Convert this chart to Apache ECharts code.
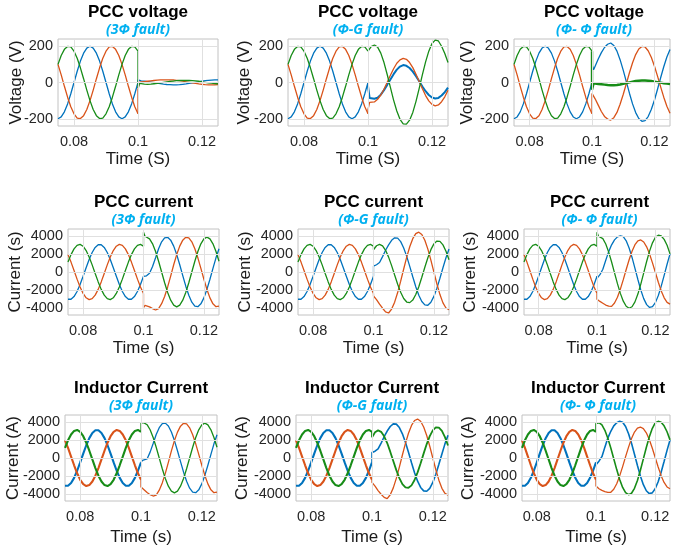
<!DOCTYPE html>
<html>
<head>
<meta charset="UTF-8">
<title>PCC voltage / PCC current / Inductor current under faults</title>
<script src="https://cdn.jsdelivr.net/npm/echarts/dist/echarts.min.js"></script>
<style>
  html, body { margin: 0; padding: 0; background: #fff; }
  #chart { width: 673px; height: 550px; }
</style>
</head>
<body>
<div id="chart"></div>
<script>
// ---- time base (s): before the fault, and from the fault instant on ----
var tPre = [0.075, 0.076, 0.077, 0.078, 0.079, 0.080, 0.081, 0.082, 0.083, 0.084, 0.085, 0.086, 0.087,
            0.088, 0.089, 0.090, 0.091, 0.092, 0.093, 0.094, 0.095, 0.096, 0.097, 0.098, 0.099, 0.100];
var tPost = [0.100, 0.1005, 0.101, 0.102, 0.103, 0.104, 0.105, 0.106, 0.107, 0.108, 0.109, 0.110, 0.111,
             0.112, 0.113, 0.114, 0.115, 0.116, 0.117, 0.118, 0.119, 0.120, 0.121, 0.122, 0.123, 0.124, 0.125];

// ---- tick labels ----
var xTicks = [0.08, 0.1, 0.12];
var vTicks = [-200, 0, 200];
var iTicks = [-4000, -2000, 0, 2000, 4000];

// ---- pre-fault (same in all three fault cases), phases A blue, B orange, C green ----
var vPreA = [-200, -190, -162, -118, -62, 0, 62, 118, 162, 190, 200, 190, 162, 118, 62, 0, -62, -118, -162, -190, -200, -190, -162, -118, -62, 0];
var vPreB = [100, 42, -21, -81, -134, -173, -196, -199, -183, -149, -100, -42, 21, 81, 134, 173, 196, 199, 183, 149, 100, 42, -21, -81, -134, -173];
var vPreC = [100, 149, 183, 199, 196, 173, 134, 81, 21, -42, -100, -149, -183, -199, -196, -173, -134, -81, -21, 42, 100, 149, 183, 199, 196, 173];

var iPreA = [-3012, -3012, -2718, -2157, -1385, -477, 477, 1385, 2157, 2718, 3012, 3012, 2718, 2157, 1385, 477, -477, -1385, -2157, -2718, -3012, -3012, -2718, -2157, -1385, -477];
var iPreB = [1919, 1093, 160, -789, -1661, -2370, -2847, -3046, -2946, -2558, -1919, -1093, -160, 789, 1661, 2370, 2847, 3046, 2946, 2558, 1919, 1093, 160, -789, -1661, -2370];
var iPreC = [1093, 1919, 2558, 2946, 3046, 2847, 2370, 1661, 789, -160, -1093, -1919, -2558, -2946, -3046, -2847, -2370, -1661, -789, 160, 1093, 1919, 2558, 2946, 3046, 2847];

var lPreA = [-3062, -3062, -2762, -2192, -1407, -485, 485, 1407, 2192, 2762, 3062, 3062, 2762, 2192, 1407, 485, -485, -1407, -2192, -2762, -3062, -3062, -2762, -2192, -1407, -485];
var lPreB = [1951, 1111, 162, -802, -1688, -2409, -2894, -3096, -2994, -2600, -1951, -1111, -162, 802, 1688, 2409, 2894, 3096, 2994, 2600, 1951, 1111, 162, -802, -1688, -2409];
var lPreC = [1111, 1951, 2600, 2994, 3096, 2894, 2409, 1688, 802, -162, -1111, -1951, -2600, -2994, -3096, -2894, -2409, -1688, -802, 162, 1111, 1951, 2600, 2994, 3096, 2894];

// ---- post-fault: PCC voltage ----
var v3A = [15, 8, 9, 7, 5, 2, -1, -4, -6, -9, -11, -12, -13, -13, -12, -10, -8, -5, -2, 1, 4, 7, 10, 12, 13, 14, 14];
var v3B = [-40, 2, 4, 5, 7, 9, 11, 13, 14, 15, 15, 15, 14, 12, 10, 7, 4, 1, -2, -5, -8, -10, -12, -13, -13, -13, -12];
var v3C = [-30, -5, -8, -9, -10, -9, -7, -5, -2, 1, 4, 6, 8, 10, 11, 11, 11, 11, 10, 9, 7, 4, 1, -2, -4, -6, -7];

var vGA = [-20, -85, -92, -90, -84, -67, -42, -13, 17, 46, 71, 88, 96, 92, 80, 60, 35, 7, -22, -48, -69, -83, -88, -85, -72, -53, -28];
var vGB = [-150, -110, -105, -107, -93, -69, -37, 1, 40, 76, 106, 125, 133, 128, 110, 82, 46, 6, -35, -72, -101, -121, -129, -124, -106, -79, -43];
var vGC = [165, 180, 198, 207, 195, 162, 110, 44, -27, -97, -157, -203, -228, -230, -208, -165, -104, -32, 43, 114, 173, 215, 234, 229, 200, 160, 110];

var vPA = [100, 70, 90, 130, 165, 193, 211, 218, 204, 173, 126, 68, 5, -59, -118, -166, -199, -214, -210, -188, -149, -98, -37, 26, 87, 141, 182];
var vPB = [-60, -75, -90, -125, -160, -187, -202, -207, -194, -165, -120, -66, -7, 54, 109, 154, 185, 199, 196, 175, 139, 91, 35, -24, -81, -131, -170];
var vPC = [-40, -5, -6, -8, -10, -12, -14, -15, -15, -14, -11, -7, -3, 1, 5, 8, 10, 11, 11, 10, 8, 5, 2, -1, -4, -6, -8];

// ---- post-fault: PCC current ----
var i3A = [-300, -420, -420, -150, 600, 1566, 2576, 3334, 3766, 3829, 3517, 2861, 1925, 800, -402, -1566, -2576, -3334, -3766, -3829, -3517, -2861, -1925, -800, 402, 1566, 2576];
var i3B = [-3950, -3700, -3700, -3850, -4050, -4200, -4050, -3500, -2700, -1650, -450, 800, 1925, 2861, 3517, 3829, 3766, 3334, 2576, 1566, 402, -800, -1925, -2861, -3517, -3829, -3766];
var i3C = [4400, 3950, 3850, 3662, 3115, 2263, 1190, 0, -1190, -2263, -3115, -3662, -3850, -3662, -3115, -2263, -1190, 0, 1190, 2263, 3115, 3662, 3850, 3662, 3115, 2263, 1190];

var iGA = [650, 750, 800, 1050, 1700, 2400, 3000, 3500, 3780, 3736, 3354, 2660, 1723, 624, -524, -1623, -2560, -3254, -3636, -3671, -3348, -2697, -1782, -693, 464, 1576, 2533];
var iGB = [-2650, -2850, -3050, -3550, -4000, -4400, -4530, -4098, -3333, -2272, -1015, 332, 1639, 2789, 3684, 4234, 4400, 4148, 3503, 2528, 1318, -8, -1324, -2496, -3410, -3979, -4150];
var iGC = [2450, 2650, 2900, 3050, 2882, 2399, 1644, 702, -333, -1352, -2242, -2926, -3316, -3383, -3102, -2492, -1626, -581, 525, 1573, 2467, 3104, 3422, 3387, 2996, 2294, 1358];

var iPA = [-700, -550, -300, 300, 1300, 2250, 3000, 3550, 3880, 4000, 3904, 3449, 2656, 1609, 408, -829, -1983, -2939, -3605, -3914, -3835, -3383, -2599, -1561, -370, 857, 2000];
var iPB = [-3000, -3100, -3250, -3450, -3650, -3780, -3790, -3422, -2782, -1896, -845, 272, 1352, 2297, 3014, 3443, 3540, 3314, 2778, 1985, 1008, -62, -1126, -2087, -2853, -3357, -3549];
var iPC = [4400, 3950, 3943, 3687, 3087, 2197, 1104, -93, -1285, -2362, -3221, -3785, -4000, -3839, -3302, -2438, -1333, -90, 1161, 2303, 3223, 3832, 4070, 3980, 3600, 2950, 2000];

// ---- post-fault: inductor current ----
var l3A = [-300, -250, -350, -100, 650, 1600, 2600, 3350, 3800, 3850, 3530, 2870, 1925, 800, -402, -1566, -2576, -3334, -3766, -3829, -3517, -2861, -1925, -800, 402, 1566, 2576];
var l3B = [-3200, -3350, -3500, -3800, -4050, -4200, -4100, -3550, -2750, -1700, -480, 780, 1925, 2861, 3517, 3829, 3766, 3334, 2576, 1566, 402, -800, -1925, -2861, -3517, -3829, -3766];
var l3C = [3900, 3950, 3880, 3680, 3120, 2270, 1190, 0, -1190, -2263, -3115, -3662, -3850, -3662, -3115, -2263, -1190, 0, 1190, 2263, 3115, 3662, 3850, 3662, 3115, 2263, 1190];

var lGA = [600, 650, 750, 1000, 1650, 2350, 2980, 3480, 3770, 3740, 3360, 2670, 1730, 630, -520, -1620, -2560, -3250, -3630, -3670, -3350, -2700, -1790, -700, 450, 1560, 2520];
var lGB = [-2700, -2900, -3100, -3600, -4000, -4350, -4480, -4060, -3300, -2250, -1000, 330, 1620, 2740, 3600, 4140, 4300, 4060, 3430, 2480, 1300, 0, -1300, -2450, -3350, -3900, -4100];
var lGC = [2300, 2550, 2850, 3050, 2890, 2400, 1650, 700, -330, -1340, -2220, -2880, -3240, -3290, -3020, -2430, -1590, -570, 510, 1540, 2420, 3050, 3380, 3360, 2990, 2300, 1380];

var lPA = [-750, -550, -350, 150, 1200, 2200, 2950, 3550, 3900, 4050, 3950, 3480, 2680, 1630, 420, -820, -1980, -2950, -3620, -3930, -3850, -3400, -2620, -1580, -390, 840, 1980];
var lPB = [-3100, -3250, -3400, -3580, -3720, -3800, -3790, -3450, -2840, -1980, -950, 150, 1200, 2150, 2870, 3300, 3420, 3250, 2780, 2050, 1100, 50, -1000, -1950, -2700, -3200, -3400];
var lPC = [3800, 3880, 3900, 3650, 3060, 2180, 1100, -90, -1280, -2370, -3250, -3830, -4050, -3890, -3350, -2480, -1360, -100, 1160, 2310, 3250, 3870, 4050, 3950, 3550, 2900, 2000];

var colors = ['#0072BD', '#D95319', '#178C17'];
var font = "'Liberation Sans', Arial, Helvetica, sans-serif";
var subs = ['(3Φ fault)', '(Φ-G fault)', '(Φ- Φ fault)'];

// one entry per subplot, row by row
var panels = [
  { title: 'PCC voltage', sub: subs[0], yName: 'Voltage (V)', xName: 'Time (S)', ticks: vTicks, lim: 240, step: 40,
    pre: [vPreA, vPreB, vPreC], post: [v3A, v3B, v3C], box: [58, 39, 160, 87], yGap: 33, xGap: 25, wPre: 1.3, wPost: [1.3, 1.3, 1.3] },
  { title: 'PCC voltage', sub: subs[1], yName: 'Voltage (V)', xName: 'Time (S)', ticks: vTicks, lim: 240, step: 40,
    pre: [vPreA, vPreB, vPreC], post: [vGA, vGB, vGC], box: [288, 39, 160, 87], yGap: 35, xGap: 25, wPre: 1.3, wPost: [2, 1.3, 1.3] },
  { title: 'PCC voltage', sub: subs[2], yName: 'Voltage (V)', xName: 'Time (S)', ticks: vTicks, lim: 240, step: 40,
    pre: [vPreA, vPreB, vPreC], post: [vPA, vPB, vPC], box: [514, 39, 160, 87], yGap: 38, xGap: 25, wPre: 1.3, wPost: [1.3, 1.3, 2.4] },

  { title: 'PCC current', sub: subs[0], yName: 'Current (s)', xName: 'Time (s)', ticks: iTicks, lim: 4750, step: 250,
    pre: [iPreA, iPreB, iPreC], post: [i3A, i3B, i3C], box: [68, 229, 151, 86], yGap: 44, xGap: 25, wPre: 1.3, wPost: [1.3, 1.3, 1.3] },
  { title: 'PCC current', sub: subs[1], yName: 'Current (s)', xName: 'Time (s)', ticks: iTicks, lim: 4750, step: 250,
    pre: [iPreA, iPreB, iPreC], post: [iGA, iGB, iGC], box: [298, 229, 151, 86], yGap: 44, xGap: 25, wPre: 1.3, wPost: [1.3, 1.3, 1.3] },
  { title: 'PCC current', sub: subs[2], yName: 'Current (s)', xName: 'Time (s)', ticks: iTicks, lim: 4750, step: 250,
    pre: [iPreA, iPreB, iPreC], post: [iPA, iPB, iPC], box: [524, 229, 151, 86], yGap: 45, xGap: 25, wPre: 1.3, wPost: [1.3, 1.3, 1.3] },

  { title: 'Inductor Current', sub: subs[0], yName: 'Current (A)', xName: 'Time (s)', ticks: iTicks, lim: 4750, step: 250,
    pre: [lPreA, lPreB, lPreC], post: [l3A, l3B, l3C], box: [65, 415, 152, 86], yGap: 43, xGap: 28, wPre: 2.1, wPost: [1.3, 1.3, 1.3] },
  { title: 'Inductor Current', sub: subs[1], yName: 'Current (A)', xName: 'Time (s)', ticks: iTicks, lim: 4750, step: 250,
    pre: [lPreA, lPreB, lPreC], post: [lGA, lGB, lGC], box: [296, 415, 152, 86], yGap: 45, xGap: 28, wPre: 2.1, wPost: [1.6, 1.3, 1.8] },
  { title: 'Inductor Current', sub: subs[2], yName: 'Current (A)', xName: 'Time (s)', ticks: iTicks, lim: 4750, step: 250,
    pre: [lPreA, lPreB, lPreC], post: [lPA, lPB, lPC], box: [522, 415, 152, 86], yGap: 45, xGap: 28, wPre: 2.1, wPost: [1.6, 1.3, 1.6] }
];

function zip(t, v) {
  return t.map(function (x, i) { return [x, v[i]]; });
}

function fmtX(v) {
  var r = Math.round(v * 1000);
  for (var i = 0; i < xTicks.length; i++) {
    if (Math.round(xTicks[i] * 1000) === r) return String(xTicks[i]);
  }
  return '';
}

var grids = [], xAxes = [], yAxes = [], titles = [], series = [];

panels.forEach(function (p, i) {
  grids.push({
    left: p.box[0], top: p.box[1], width: p.box[2], height: p.box[3],
    show: true, borderColor: '#c2c2c2', borderWidth: 1, backgroundColor: '#fff'
  });

  xAxes.push({
    gridIndex: i, type: 'value', min: 0.075, max: 0.125, interval: 0.005,
    name: p.xName, nameLocation: 'middle', nameGap: p.xGap, nameMoveOverlap: false,
    nameTextStyle: { fontSize: 17, color: '#1a1a1a', fontFamily: font },
    axisLine: { show: false }, axisTick: { show: false }, splitLine: { show: false },
    axisLabel: { margin: 8, fontSize: 14.5, color: '#262626', fontFamily: font, formatter: fmtX }
  });

  var ticks = p.ticks;
  yAxes.push({
    gridIndex: i, type: 'value', min: -p.lim, max: p.lim, interval: p.step,
    name: p.yName, nameLocation: 'middle', nameGap: p.yGap, nameMoveOverlap: false,
    nameTextStyle: { fontSize: 17, color: '#1a1a1a', fontFamily: font },
    axisLine: { show: false }, axisTick: { show: false }, splitLine: { show: false },
    axisLabel: {
      margin: 5, fontSize: 14.5, color: '#262626', fontFamily: font,
      formatter: function (v) {
        var r = Math.round(v);
        return ticks.indexOf(r) >= 0 ? String(r) : '';
      }
    }
  });

  titles.push({
    text: p.title, subtext: p.sub,
    left: p.box[0] + p.box[2] / 2, top: p.box[1] - 35,
    textAlign: 'center', textVerticalAlign: 'top', padding: 0, itemGap: 2,
    textStyle: { fontSize: 17, fontWeight: 'bold', color: '#000', fontFamily: font },
    subtextStyle: { fontSize: 14, fontWeight: 'bold', fontStyle: 'italic', color: '#00B0F0', fontFamily: "'Open Sans', " + font }
  });

  // grid lines at the labelled ticks
  series.push({
    type: 'line', xAxisIndex: i, yAxisIndex: i, data: [], silent: true, z: 1,
    markLine: {
      silent: true, symbol: 'none', animation: false,
      label: { show: false },
      lineStyle: { color: '#e0e0e0', width: 1, type: 'solid' },
      data: xTicks.map(function (x) { return { xAxis: x }; })
        .concat(ticks.map(function (y) { return { yAxis: y }; }))
    }
  });

  // phases A, B, C: pre-fault piece, then post-fault piece joined at t = 0.1
  for (var k = 0; k < 3; k++) {
    var pre = p.pre[k];
    series.push({
      type: 'line', xAxisIndex: i, yAxisIndex: i, z: 2,
      data: zip(tPre, pre), showSymbol: false, symbol: 'none', silent: true,
      lineStyle: { color: colors[k], width: p.wPre }
    });
    series.push({
      type: 'line', xAxisIndex: i, yAxisIndex: i, z: 2,
      data: [[tPre[tPre.length - 1], pre[pre.length - 1]]].concat(zip(tPost, p.post[k])),
      showSymbol: false, symbol: 'none', silent: true,
      lineStyle: { color: colors[k], width: p.wPost[k] }
    });
  }
});

var myChart = echarts.init(document.getElementById('chart'), null, { renderer: 'canvas' });
myChart.setOption({
  animation: false,
  backgroundColor: '#fff',
  title: titles,
  grid: grids,
  xAxis: xAxes,
  yAxis: yAxes,
  series: series
});
</script>
</body>
</html>
